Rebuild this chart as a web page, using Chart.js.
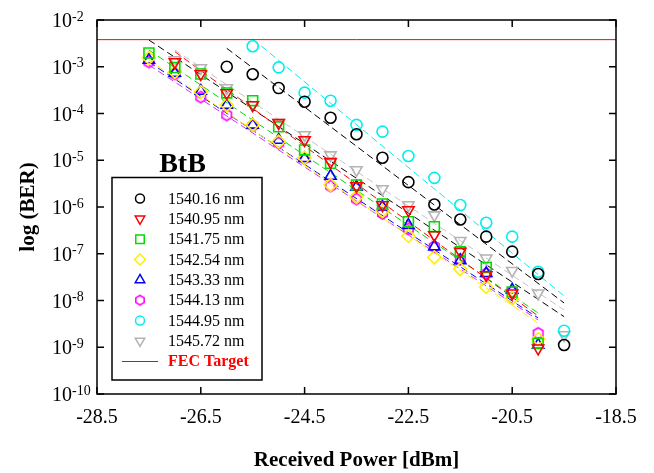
<!DOCTYPE html>
<html lang="en">
<head>
<meta charset="UTF-8" />
<title>BtB - BER vs Received Power</title>
<script src="https://cdn.jsdelivr.net/npm/chart.js"></script>
<style>
  body { margin: 0; background: #fff; }
  canvas { display: block; }
</style>
</head>
<body>
<canvas id="berChart" width="654" height="473"></canvas>
<script>
  const SERIF = "'Liberation Serif', 'Times New Roman', serif";

  // axis ticks
  const powerTicks = [-28.5, -26.5, -24.5, -22.5, -20.5, -18.5];
  const berExponents = [-2, -3, -4, -5, -6, -7, -8, -9, -10];

  // HD-FEC threshold
  const fecTarget = 3.8e-3;

  // received power of each measurement (dBm)
  const powerBlack = [-26.0, -25.5, -25.0, -24.5, -24.0, -23.5, -23.0, -22.5, -22.0, -21.5, -21.0, -20.5, -20.0, -19.5];
  const powerRed = [-27.0, -26.5, -26.0, -25.5, -25.0, -24.5, -24.0, -23.5, -23.0, -22.5, -22.0, -21.5, -21.0, -20.5, -20.0];
  const powerFull = [-27.5, -27.0, -26.5, -26.0, -25.5, -25.0, -24.5, -24.0, -23.5, -23.0, -22.5, -22.0, -21.5, -21.0, -20.5, -20.0];
  const powerCyan = [-25.5, -25.0, -24.5, -24.0, -23.5, -23.0, -22.5, -22.0, -21.5, -21.0, -20.5, -20.0, -19.5];
  const powerGray = [-27.0, -26.5, -26.0, -25.5, -25.0, -24.5, -24.0, -23.5, -23.0, -22.5, -22.0, -21.5, -21.0, -20.5, -20.0, -19.5];

  // measured BER per wavelength
  const ber1540_16 = [1.0e-3, 6.9e-4, 3.5e-4, 1.79e-4, 8.1e-5, 3.6e-5, 1.13e-5, 3.4e-6, 1.13e-6, 5.4e-7, 2.32e-7, 1.11e-7, 3.69e-8, 1.12e-9];
  const ber1540_95 = [1.26e-3, 7.0e-4, 2.75e-4, 1.52e-4, 6.3e-5, 2.71e-5, 9.2e-6, 2.81e-6, 1.10e-6, 8.6e-7, 2.52e-7, 1.11e-7, 3.51e-8, 1.43e-8, 9.5e-10];
  const ber1541_75 = [1.97e-3, 9.6e-4, 7.0e-4, 2.75e-4, 1.88e-4, 5.2e-5, 1.66e-5, 8.6e-6, 2.96e-6, 1.16e-6, 4.85e-7, 3.8e-7, 1.11e-7, 5.1e-8, 1.52e-8, 1.21e-9];
  const ber1542_54 = [1.54e-3, 7.7e-4, 2.88e-4, 1.52e-4, 5.7e-5, 2.49e-5, 1.12e-5, 2.96e-6, 1.64e-6, 8.2e-7, 2.40e-7, 8.4e-8, 4.7e-8, 1.95e-8, 1.11e-8, 1.50e-9];
  const ber1543_33 = [1.39e-3, 7.35e-4, 3.03e-4, 1.52e-4, 5.7e-5, 2.71e-5, 1.10e-5, 4.6e-6, 2.68e-6, 1.01e-6, 4.1e-7, 1.42e-7, 7.2e-8, 3.82e-8, 1.68e-8, 1.12e-9];
  const ber1544_13 = [1.26e-3, 7.0e-4, 2.25e-4, 9.3e-5, 5.5e-5, 2.34e-5, 1.09e-5, 2.81e-6, 1.48e-6, 7.3e-7, 3.4e-7, 1.42e-7, 7.5e-8, 3.74e-8, 1.54e-8, 1.99e-9];
  const ber1544_95 = [2.74e-3, 9.7e-4, 2.79e-4, 1.88e-4, 5.7e-5, 4.1e-5, 1.23e-5, 4.2e-6, 1.10e-6, 4.6e-7, 2.32e-7, 4.13e-8, 2.26e-9];
  const ber1545_72 = [1.39e-3, 9.4e-4, 3.5e-4, 1.52e-4, 6.3e-5, 3.47e-5, 1.29e-5, 6.2e-6, 2.43e-6, 1.10e-6, 6.7e-7, 1.90e-7, 8.0e-8, 4.34e-8, 1.43e-8, 1.83e-9];

  // linear (log-BER) fits, one per wavelength in legend order
  const fitPowerStart = [-26.0, -27.0, -27.5, -27.5, -27.5, -27.5, -25.5, -27.0];
  const fitPowerEnd = [-19.5, -20.0, -20.0, -20.0, -20.0, -20.0, -19.5, -19.5];
  const fitBerStart = [2.48e-3, 2.10e-3, 2.28e-3, 1.39e-3, 1.26e-3, 1.09e-3, 3.93e-3, 2.28e-3];
  const fitBerEnd = [8.85e-9, 4.66e-9, 5.41e-9, 3.30e-9, 4.23e-9, 3.83e-9, 1.25e-8, 6.27e-9];

  // black fit through the main group of channels
  const groupFitPower = [-27.5, -19.5];
  const groupFitBer = [3.73e-3, 4.51e-9];

  function hexagon(color, r) {
    const c = document.createElement('canvas');
    const s = Math.ceil(2 * r + 4);
    c.width = s; c.height = s;
    const g = c.getContext('2d');
    g.strokeStyle = color;
    g.lineWidth = 1.6;
    g.beginPath();
    for (let i = 0; i < 6; i++) {
      const a = Math.PI / 3 * i - Math.PI / 2;
      const px = s / 2 + r * Math.cos(a), py = s / 2 + r * Math.sin(a);
      if (i === 0) g.moveTo(px, py); else g.lineTo(px, py);
    }
    g.closePath();
    g.stroke();
    return c;
  }

  const series = [
    { label: '1540.16 nm', color: '#000000', line: '#000000', style: 'circle', r: 5.5, lr: 4.5, rot: 0, x: powerBlack, y: ber1540_16 },
    { label: '1540.95 nm', color: '#ff0000', line: '#ff0000', style: 'triangle', r: 6.5, lr: 5.5, rot: 180, x: powerRed, y: ber1540_95 },
    { label: '1541.75 nm', color: '#00dd00', line: '#00dd00', style: 'rect', r: 7, lr: 6, rot: 0, x: powerFull, y: ber1541_75 },
    { label: '1542.54 nm', color: '#ffee00', line: '#ffee00', style: 'rectRot', r: 6.5, lr: 5.5, rot: 0, x: powerFull, y: ber1542_54 },
    { label: '1543.33 nm', color: '#0000ff', line: '#0000ff', style: 'triangle', r: 6.5, lr: 5.5, rot: 0, x: powerFull, y: ber1543_33 },
    { label: '1544.13 nm', color: '#ff00ff', line: '#cc33ff', style: hexagon('#ff00ff', 5.5), legendStyle: hexagon('#ff00ff', 4.8), r: 5, lr: 5, rot: 0, x: powerFull, y: ber1544_13 },
    { label: '1544.95 nm', color: '#00eeee', line: '#00eeee', style: 'circle', r: 5.5, lr: 4.5, rot: 0, x: powerCyan, y: ber1544_95 },
    { label: '1545.72 nm', color: '#b4b4b4', line: '#c4c4c4', style: 'triangle', r: 6.5, lr: 5.5, rot: 180, x: powerGray, y: ber1545_72 }
  ];

  const pairs = (xs, ys) => xs.map((v, i) => ({ x: v, y: ys[i] }));

  const datasets = [];
  series.forEach((s, i) => {
    datasets.push({
      label: s.label,
      data: pairs(s.x, s.y),
      showLine: false,
      pointStyle: s.style,
      pointRotation: s.rot,
      pointRadius: s.r,
      pointBorderWidth: 1.6,
      pointBorderColor: s.color,
      pointBackgroundColor: 'rgba(0,0,0,0)',
      order: 0
    });
    datasets.push({
      label: s.label + ' fit',
      data: pairs([fitPowerStart[i], fitPowerEnd[i]], [fitBerStart[i], fitBerEnd[i]]),
      showLine: true,
      borderColor: s.line,
      borderWidth: 1,
      borderDash: [7, 4],
      pointRadius: 0,
      order: 2
    });
  });
  datasets.push({
    label: 'group fit',
    data: pairs(groupFitPower, groupFitBer),
    showLine: true,
    borderColor: '#000000',
    borderWidth: 1,
    borderDash: [7, 4],
    pointRadius: 0,
    order: 2
  });
  datasets.push({
    label: 'FEC Target',
    data: pairs([powerTicks[0], powerTicks[powerTicks.length - 1]], [fecTarget, fecTarget]),
    showLine: true,
    borderColor: '#ff0000',
    borderWidth: 1,
    pointRadius: 0,
    order: 1
  });

  // frame with inward ticks, decade labels, y title, legend box
  const decorations = {
    id: 'decorations',
    afterDraw(chart) {
      const { ctx, chartArea: a, scales: { x, y } } = chart;
      ctx.save();

      ctx.strokeStyle = '#000';
      ctx.lineWidth = 1.5;
      ctx.strokeRect(a.left, a.top, a.right - a.left, a.bottom - a.top);
      ctx.beginPath();
      powerTicks.forEach(v => {
        const px = x.getPixelForValue(v);
        ctx.moveTo(px, a.bottom); ctx.lineTo(px, a.bottom - 7);
        ctx.moveTo(px, a.top); ctx.lineTo(px, a.top + 7);
      });
      berExponents.forEach(e => {
        const py = y.getPixelForValue(Math.pow(10, e));
        ctx.moveTo(a.left, py); ctx.lineTo(a.left + 7, py);
        ctx.moveTo(a.right, py); ctx.lineTo(a.right - 7, py);
      });
      ctx.stroke();

      // 10^n labels
      ctx.fillStyle = '#000';
      ctx.textAlign = 'left';
      ctx.textBaseline = 'alphabetic';
      berExponents.forEach(e => {
        const py = y.getPixelForValue(Math.pow(10, e));
        ctx.font = `20px ${SERIF}`;
        ctx.fillText('10', 52, py + 7);
        const w = ctx.measureText('10').width;
        ctx.font = `14px ${SERIF}`;
        ctx.fillText(String(e), 52 + w, py + 0.5);
      });

      // y axis title
      ctx.save();
      ctx.translate(34, (a.top + a.bottom) / 2);
      ctx.rotate(-Math.PI / 2);
      ctx.textAlign = 'center';
      ctx.font = `bold 21px ${SERIF}`;
      ctx.fillText('log (BER)', 0, 0);
      ctx.restore();

      // BtB label
      ctx.textAlign = 'center';
      ctx.font = `bold 28px ${SERIF}`;
      ctx.fillText('BtB', 182.5, 172);

      // legend
      const bx = 112, by = 177.5, bw = 150, bh = 202.5;
      ctx.fillStyle = '#fff';
      ctx.fillRect(bx, by, bw, bh);
      ctx.strokeStyle = '#000';
      ctx.lineWidth = 1.5;
      ctx.strokeRect(bx, by, bw, bh);
      ctx.textAlign = 'left';
      ctx.textBaseline = 'middle';
      ctx.font = `16px ${SERIF}`;
      series.forEach((s, i) => {
        const ry = 198.5 + i * 20.35;
        ctx.strokeStyle = s.color;
        ctx.fillStyle = 'rgba(0,0,0,0)';
        Chart.helpers.drawPoint(ctx, {
          pointStyle: s.legendStyle || s.style,
          rotation: s.rot,
          radius: s.lr,
          borderWidth: 1.6
        }, 140, ry);
        ctx.fillStyle = '#000';
        ctx.fillText(s.label, 168, ry + 1);
      });
      const fy = Math.round(198.5 + 8 * 20.35) + 0.5;
      ctx.strokeStyle = '#ff0000';
      ctx.lineWidth = 1;
      ctx.beginPath();
      ctx.moveTo(122, fy); ctx.lineTo(158, fy);
      ctx.stroke();
      ctx.fillStyle = '#ff0000';
      ctx.font = `bold 16px ${SERIF}`;
      ctx.fillText('FEC Target', 168, fy + 0.5);

      ctx.restore();
    }
  };

  new Chart(document.getElementById('berChart'), {
    type: 'scatter',
    data: { datasets },
    options: {
      responsive: false,
      animation: false,
      devicePixelRatio: 1,
      layout: { padding: { top: 20, right: 38, left: 0, bottom: 0 } },
      plugins: { legend: { display: false }, tooltip: { enabled: false } },
      scales: {
        x: {
          type: 'linear',
          min: -28.5,
          max: -18.5,
          afterBuildTicks: scale => { scale.ticks = powerTicks.map(v => ({ value: v })); },
          afterFit: scale => { scale.height = 79; },
          grid: { display: false, drawTicks: false },
          border: { display: false },
          ticks: {
            color: '#000',
            padding: 12,
            maxRotation: 0,
            font: { family: SERIF, size: 20 },
            callback: v => v.toFixed(1)
          },
          title: {
            display: true,
            text: 'Received Power [dBm]',
            color: '#000',
            font: { family: SERIF, size: 21, weight: 'bold' },
            padding: { top: 0, bottom: 0 }
          }
        },
        y: {
          type: 'logarithmic',
          min: 1e-10,
          max: 1e-2,
          afterBuildTicks: scale => { scale.ticks = berExponents.map(e => ({ value: Math.pow(10, e) })); },
          afterFit: scale => { scale.width = 97; },
          grid: { display: false, drawTicks: false },
          border: { display: false },
          ticks: { display: false }
        }
      }
    },
    plugins: [decorations]
  });
</script>
</body>
</html>
